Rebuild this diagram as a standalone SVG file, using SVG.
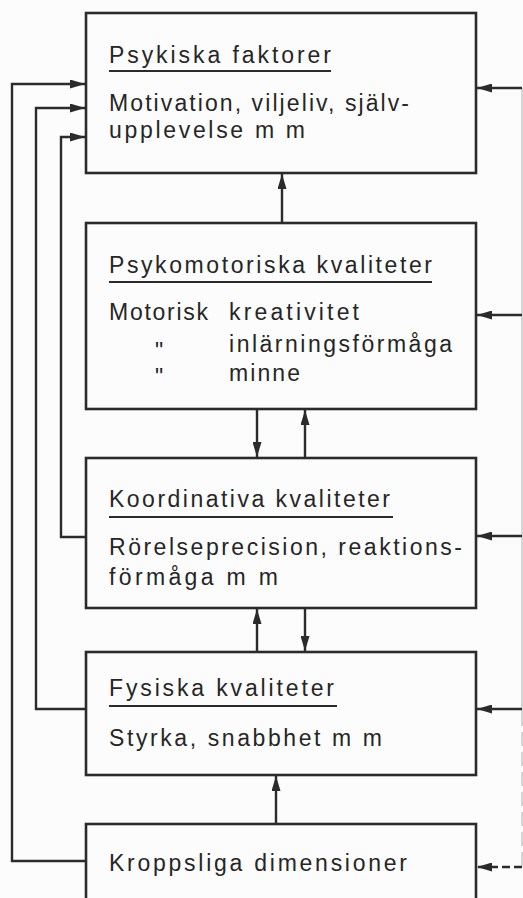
<svg xmlns="http://www.w3.org/2000/svg" width="523" height="898" viewBox="0 0 523 898">
  <style>
    .box { fill: none; stroke: #2b2b2b; stroke-width: 2.6; }
    .t { font-family: "Liberation Sans", "DejaVu Sans", sans-serif; font-size: 23px; fill: #262626; }
    .ul { stroke: #2b2b2b; stroke-width: 2; }
    .c { fill: none; stroke: #2b2b2b; stroke-width: 2.4; }
    .fb { fill: none; stroke: #c8c8c8; stroke-width: 1.5; }
  </style>
  <defs>
    <marker id="ah" markerUnits="userSpaceOnUse" markerWidth="15" markerHeight="9" refX="15" refY="4.5" orient="auto">
      <path d="M0,0 L15,4.5 L0,9 z" fill="#2b2b2b"/>
    </marker>
  </defs>
  <rect width="523" height="898" fill="#fcfcfc"/>

  <g id="psykiska">
    <rect class="box" x="86" y="13" width="390" height="160"/>
    <text class="t" x="109" y="63" textLength="222" lengthAdjust="spacing">Psykiska faktorer</text>
    <line class="ul" x1="109" y1="71" x2="331" y2="71"/>
    <text class="t" x="109" y="111" textLength="300" lengthAdjust="spacing">Motivation, viljeliv, själv-</text>
    <text class="t" x="109" y="138" textLength="196" lengthAdjust="spacing">upplevelse m m</text>
  </g>

  <g id="psykomotoriska">
    <rect class="box" x="86" y="223" width="390" height="186"/>
    <text class="t" x="109" y="273" textLength="323" lengthAdjust="spacing">Psykomotoriska kvaliteter</text>
    <line class="ul" x1="109" y1="282" x2="432" y2="282"/>
    <text class="t" x="109" y="320" textLength="99" lengthAdjust="spacing">Motorisk</text>
    <text class="t" x="229" y="320" textLength="130" lengthAdjust="spacing">kreativitet</text>
    <text class="t" x="155" y="359" font-size="16">"</text>
    <text class="t" x="229" y="352" textLength="223" lengthAdjust="spacing">inlärningsförmåga</text>
    <text class="t" x="155" y="385" font-size="16">"</text>
    <text class="t" x="229" y="381" textLength="71" lengthAdjust="spacing">minne</text>
  </g>

  <g id="koordinativa">
    <rect class="box" x="86" y="458" width="390" height="150"/>
    <text class="t" x="109" y="507" textLength="281" lengthAdjust="spacing">Koordinativa kvaliteter</text>
    <line class="ul" x1="109" y1="517" x2="393" y2="517"/>
    <text class="t" x="109" y="555" textLength="353" lengthAdjust="spacing">Rörelseprecision, reaktions-</text>
    <text class="t" x="109" y="585" textLength="169" lengthAdjust="spacing">förmåga m m</text>
  </g>

  <g id="fysiska">
    <rect class="box" x="86" y="652" width="390" height="123"/>
    <text class="t" x="109" y="696" textLength="225" lengthAdjust="spacing">Fysiska kvaliteter</text>
    <line class="ul" x1="109" y1="706" x2="337" y2="706"/>
    <text class="t" x="109" y="746" textLength="273" lengthAdjust="spacing">Styrka, snabbhet m m</text>
  </g>

  <g id="kroppsliga">
    <rect class="box" x="86" y="824" width="390" height="90"/>
    <text class="t" x="109" y="871" textLength="298" lengthAdjust="spacing">Kroppsliga dimensioner</text>
  </g>

  <g id="connectors">
    <!-- vertical links between boxes -->
    <line class="c" x1="282" y1="223" x2="282" y2="174" marker-end="url(#ah)"/>
    <line class="c" x1="257" y1="409" x2="257" y2="457" marker-end="url(#ah)"/>
    <line class="c" x1="305" y1="458" x2="305" y2="410" marker-end="url(#ah)"/>
    <line class="c" x1="257" y1="652" x2="257" y2="609" marker-end="url(#ah)"/>
    <line class="c" x1="305" y1="608" x2="305" y2="651" marker-end="url(#ah)"/>
    <line class="c" x1="276" y1="824" x2="276" y2="776" marker-end="url(#ah)"/>
    <!-- feedback loops on the left -->
    <polyline class="c" points="86,861 12,861 12,84 85,84" marker-end="url(#ah)"/>
    <polyline class="c" points="86,709 36,709 36,108 85,108" marker-end="url(#ah)"/>
    <polyline class="c" points="86,537 61,537 61,137 85,137" marker-end="url(#ah)"/>
    <!-- inputs on the right -->
    <line class="fb" x1="522" y1="88" x2="522" y2="712"/>
    <line class="fb" x1="522" y1="712" x2="522" y2="867" stroke-dasharray="14 6"/>
    <line class="c" x1="522" y1="88" x2="477" y2="88" marker-end="url(#ah)"/>
    <line class="c" x1="522" y1="315" x2="477" y2="315" marker-end="url(#ah)"/>
    <line class="c" x1="522" y1="536" x2="477" y2="536" marker-end="url(#ah)"/>
    <line class="c" x1="522" y1="709" x2="477" y2="709" marker-end="url(#ah)"/>
    <line class="c" x1="522" y1="867" x2="477" y2="867" stroke-dasharray="8 4" marker-end="url(#ah)"/>
  </g>
</svg>
